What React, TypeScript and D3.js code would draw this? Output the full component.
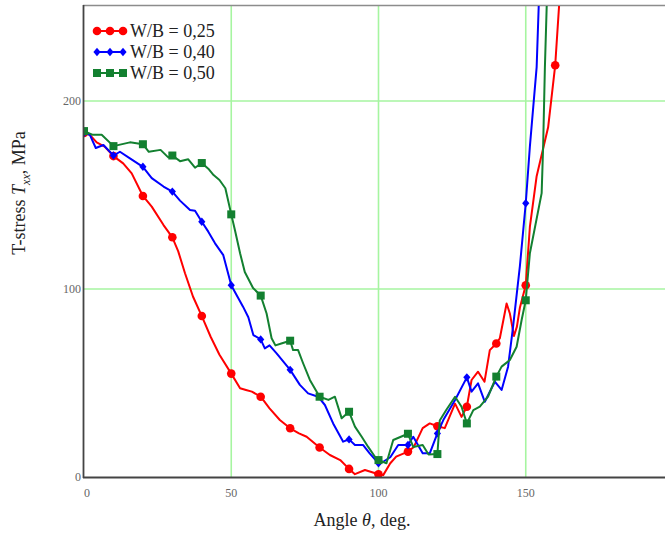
import React from "react";
import * as d3 from "d3";

const redAngles = [0, 2, 4.3, 7, 10, 13.3, 16.2, 20, 23, 27, 30, 32, 34.3, 37, 40, 43, 46, 50, 53, 55, 57, 60, 63, 66.5, 70, 73, 75.6, 80, 83.5, 87, 90, 92, 95.4, 100, 101.6, 104, 106, 110, 112, 115, 117.4, 120, 122.5, 126, 128.2, 130, 131.6, 133.8, 136, 137.8, 140, 141.2, 143.5, 144.6, 146, 147, 148, 150, 151.4, 153.7, 157.6, 160, 161.5];
const redValues = [183, 182, 178, 175.7, 170.7, 166.8, 161.5, 149.5, 143.8, 134, 127.5, 120, 108.4, 96, 85.6, 74.6, 65, 55, 47.2, 46.3, 45.4, 42.7, 36.5, 30.3, 25.9, 23.2, 21.4, 15.7, 11.7, 9, 4.3, 1.5, 3.7, 1.5, 1, 7.3, 10.8, 13.5, 16, 26, 28.5, 27, 26, 39, 32, 37.4, 51.6, 56, 50.7, 67.5, 71, 73.8, 92.3, 87, 75, 80, 90, 102, 133, 160, 186, 219, 255];

const blueAngles = [0, 2, 4, 6.6, 10, 12.2, 15.6, 20, 23, 27, 30, 32.6, 36, 37.7, 40, 42.2, 44.5, 47.3, 50, 51.8, 54, 55.8, 57.5, 60, 61.4, 63, 65.4, 70, 73.3, 76.1, 79.5, 81.8, 84.6, 88, 90, 92, 94.8, 97, 100, 101.6, 104, 106.7, 110, 111.8, 115, 117.4, 120, 122, 126, 130, 131.6, 133.8, 136.1, 139.5, 141.8, 144, 145.7, 148, 150, 151.4, 153.7, 154.5];
const blueValues = [183, 182, 175, 176.6, 171, 173, 169.5, 165, 159, 154.5, 151.8, 147, 142, 141.6, 135.8, 130.5, 124.3, 118, 102, 96.8, 90.6, 85, 75.5, 73.2, 68.4, 70, 65.8, 57, 49, 44.5, 42.7, 38.3, 28.5, 18.8, 20, 17, 17, 12.6, 7.3, 8.1, 10.5, 17, 17, 21.4, 12.6, 12.6, 23.2, 30.3, 41, 53, 45.4, 49.8, 40, 50.7, 46.3, 58.7, 80, 112, 145.6, 175.7, 218, 255];

const greenAngles = [0, 3, 6, 10, 15.6, 20, 22, 26, 28.6, 30, 32.6, 35.4, 37.7, 40, 42.2, 44, 46, 48, 50, 51.3, 53, 54.6, 57.4, 60, 62, 63.7, 65, 67, 70, 71, 72.7, 74.4, 76.7, 80, 83, 85.2, 87.5, 90, 92, 94.3, 96.5, 98.8, 100, 102.7, 105, 107, 110, 111.8, 115, 117, 120, 120.8, 123, 126, 128.2, 130, 132.2, 134.4, 137.2, 140, 141.8, 144.6, 146.9, 148.6, 150, 151.4, 155.4, 155.9, 156.5, 157.2];
const greenValues = [184, 182, 182, 176, 178, 177, 173, 174, 170, 171, 168, 169, 164.5, 167, 164, 160.6, 158, 153.6, 139.7, 131, 119, 109, 100.5, 96.5, 87, 73.8, 70, 71, 72.5, 67.5, 67.5, 60.5, 51.6, 42.7, 41, 42.7, 31.2, 34.7, 26.8, 21.4, 16, 10.8, 9, 7.3, 19.7, 21, 23, 16, 17, 12, 12.2, 30, 35.6, 42.7, 37.4, 28.5, 35.6, 37.4, 42.7, 53.4, 58.7, 62.2, 69.3, 83.5, 94, 119, 151, 175.7, 218, 255];

const xTicks = [0, 50, 100, 150];
const yTicks = [0, 100, 200];
const legendLabels = ["W/B = 0,25", "W/B = 0,40", "W/B = 0,50"];
const colors = ["#ff0000", "#0000ff", "#138030"];

const W = 665, H = 533;
const x = d3.scaleLinear().domain([0, 200]).range([84, 673]);
const y = d3.scaleLinear().domain([0, 250]).range([477, 7]);

function Marker({ kind, cx, cy, color }: { kind: number; cx: number; cy: number; color: string }) {
  if (kind === 0) return <circle cx={cx} cy={cy} r={4.3} fill={color} />;
  if (kind === 1) return <path d={`M${cx},${cy - 4.2}L${cx + 3.6},${cy}L${cx},${cy + 4.2}L${cx - 3.6},${cy}Z`} fill={color} />;
  return <rect x={cx - 4} y={cy - 4} width={8} height={8} fill={color} />;
}

export default function App() {
  const series = [
    { a: redAngles, v: redValues },
    { a: blueAngles, v: blueValues },
    { a: greenAngles, v: greenValues },
  ];
  const line = d3.line<[number, number]>().x(d => x(d[0])).y(d => y(d[1]));
  const serif = "'Liberation Serif', 'Times New Roman', serif";
  return (
    <svg width={W} height={H} style={{ position: "absolute", left: 0, top: 0 }} fontFamily={serif}>
      <defs>
        <clipPath id="plot"><rect x={84} y={6} width={600} height={472} /></clipPath>
      </defs>
      <rect width={W} height={H} fill="#fff" />
      {xTicks.filter(t => t > 0).map(t => (
        <line key={"gx" + t} x1={x(t)} x2={x(t)} y1={6} y2={477} stroke="#a6f5a0" strokeWidth={1.6} />
      ))}
      {yTicks.filter(t => t > 0).map(t => (
        <line key={"gy" + t} x1={84} x2={W} y1={y(t)} y2={y(t)} stroke="#a6f5a0" strokeWidth={1.6} />
      ))}
      <line x1={83} x2={W} y1={5.5} y2={5.5} stroke="#8c8c8c" strokeWidth={1.6} />
      <g clipPath="url(#plot)">
        {series.map((s, i) => {
          const pts: [number, number][] = s.a.map((a, j) => [a, s.v[j]]);
          return (
            <g key={i}>
              <path d={line(pts) || ""} fill="none" stroke={colors[i]} strokeWidth={2} strokeLinejoin="round" />
              {pts.filter(p => p[0] % 10 === 0 && p[1] <= 250).map((p, k) => (
                <Marker key={k} kind={i} cx={x(p[0])} cy={y(p[1])} color={colors[i]} />
              ))}
            </g>
          );
        })}
      </g>
      <line x1={83.5} x2={83.5} y1={5} y2={478} stroke="#444" strokeWidth={1.8} />
      <line x1={83} x2={W} y1={477.5} y2={477.5} stroke="#444" strokeWidth={1.8} />
      {yTicks.map(t => (
        <text key={"ty" + t} x={81} y={y(t) + 4} textAnchor="end" fontSize={12} fill="#666">{t}</text>
      ))}
      {xTicks.map(t => (
        <text key={"tx" + t} x={x(t) + (t === 0 ? 3 : 0)} y={497} textAnchor="middle" fontSize={12} fill="#666">{t}</text>
      ))}
      <text x={362} y={526} textAnchor="middle" fontSize={18} fill="#222">
        Angle <tspan fontStyle="italic">θ</tspan>, deg.
      </text>
      <text transform="translate(25,193) rotate(-90)" textAnchor="middle" fontSize={18} fill="#222">
        T-stress <tspan fontStyle="italic">T</tspan><tspan fontStyle="italic" fontSize={12} dy={5}>xx</tspan><tspan dy={-5}>, MPa</tspan>
      </text>
      {legendLabels.map((lab, i) => {
        const ly = 31 + i * 21;
        return (
          <g key={lab}>
            <line x1={96} x2={124} y1={ly} y2={ly} stroke={colors[i]} strokeWidth={2} />
            {[97, 110, 123].map(mx => <Marker key={mx} kind={i} cx={mx} cy={ly} color={colors[i]} />)}
            <text x={130} y={ly + 6} fontSize={18} fill="#222">{lab}</text>
          </g>
        );
      })}
    </svg>
  );
}
